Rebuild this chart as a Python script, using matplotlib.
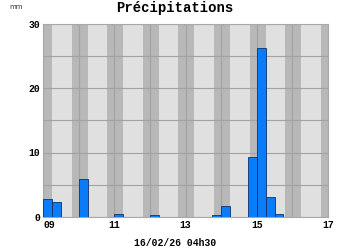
import numpy as np
import matplotlib
matplotlib.use("Agg")
import matplotlib.pyplot as plt

# 6-hour precipitation totals (mm), starting 09 00h; nan = no bar
precip_mm = [2.8, 2.3, np.nan, np.nan,
             5.8, np.nan, 0.0, np.nan,
             0.4, 0.0, 0.0, 0.0,
             0.2, 0.0, 0.0, 0.0,
             0.0, 0.0, 0.0, 0.2,
             1.6, np.nan, np.nan, 9.3,
             26.2, 3.0, 0.4, 0.0]
first_day = 9
slot_days = 0.25
day_ticks = [9, 11, 13, 15, 17]
day_labels = ["09", "11", "13", "15", "17"]
y_ticks = [0, 10, 20, 30]
night_start = [-0.2, 0.8, 1.8, 2.8, 3.8, 4.8, 5.8, 6.8, 7.8]
night_end = [0.25, 1.25, 2.25, 3.25, 4.25, 5.25, 6.25, 7.25, 8.25]
title = "Précipitations"
unit = "mm"
stamp = "16/02/26 04h30"

mono = "Liberation Mono"
fig = plt.figure(figsize=(3.5, 2.5), dpi=100)
ax = fig.add_axes([0.123, 0.133, 0.814, 0.771])
ax.set_facecolor("#e0e0e0")
for s, e in zip(night_start, night_end):
    ax.axvspan(first_day + s, first_day + e, color="#b8b8b8", lw=0, zorder=0)

x = first_day + np.arange(len(precip_mm)) * slot_days
ax.bar(x, precip_mm, width=slot_days, align="edge", color="#0a7cf8",
       edgecolor="#10306a", linewidth=0.6, zorder=3)

ax.set_xlim(9, 17)
ax.set_ylim(0, 30)
ax.set_xticks(day_ticks)
ax.set_xticklabels(day_labels)
ax.set_xticks(np.arange(9, 18), minor=True)
ax.set_yticks(y_ticks)
ax.set_yticks(np.arange(0, 31, 5), minor=True)
ax.grid(True, which="both", color="#a2a2a2", linewidth=0.8, zorder=1)
ax.set_axisbelow(True)
ax.tick_params(which="both", length=0, pad=2)
for lab in ax.get_xticklabels() + ax.get_yticklabels():
    lab.set_fontfamily(mono)
    lab.set_fontweight("bold")
    lab.set_fontsize(7)
ax.get_xticklabels()[0].set_horizontalalignment("left")
for sp in ax.spines.values():
    sp.set_color("#a8a8a8")
    sp.set_linewidth(0.8)

fig.text(0.5, 0.968, title, ha="center", va="center", fontfamily=mono,
         fontweight="bold", fontsize=10)
fig.text(0.047, 0.972, unit, ha="center", va="center", fontfamily="DejaVu Sans",
         fontsize=5, color="#333333")
fig.text(0.5, 0.03, stamp, ha="center", va="center", fontfamily=mono,
         fontweight="bold", fontsize=7)

fig.savefig("out.png", dpi=100)
